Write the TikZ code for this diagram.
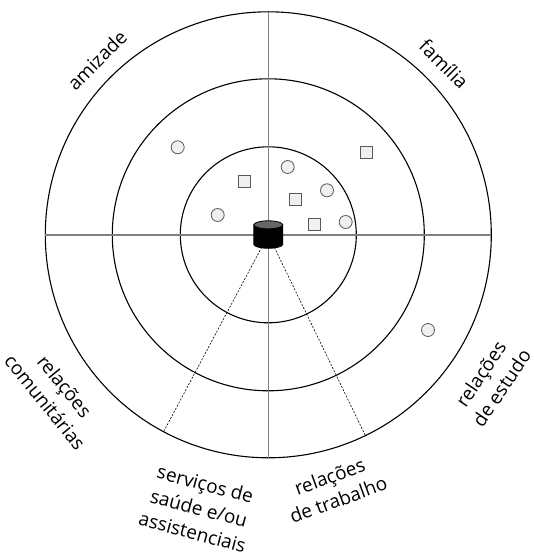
\documentclass[tikz,border=0pt]{standalone}
\usepackage{fontspec}
\setmainfont{Open Sans}

\begin{document}
\begin{tikzpicture}[
  x=1pt, y=-1pt,
  ring/.style={draw=black, line width=1.1pt},
  axis/.style={draw=black!50, line width=1.5pt},
  sector/.style={draw=black, line width=0.6pt, dash pattern=on 2pt off 1.5pt},
  person/.style={circle, draw=black!65, fill=black!6, line width=0.8pt,
                 minimum size=13pt, inner sep=0pt},
  group/.style={rectangle, draw=black!65, fill=black!6, line width=0.8pt,
                minimum size=12pt, inner sep=0pt},
  lbl/.style={font=\fontsize{19}{25}\selectfont, align=center}
]
\useasboundingbox (0,0) rectangle (534,559);
\coordinate (c) at (268.3,234.8);

% rings
\draw[ring] (c) circle[radius=223];
\draw[ring] (c) circle[radius=156];
\draw[ring] (c) circle[radius=88];

% quadrants
\path (c) ++(0,-223) coordinate (n);
\path (c) ++(0,223) coordinate (s);
\path (c) ++(-223,0) coordinate (w);
\path (c) ++(223,0) coordinate (e);
\draw[axis] (n) -- (s);
\draw[axis] (w) -- (e);

% lower sectors
\path (c) ++(118:223) coordinate (dl);
\path (c) ++(64.2:223) coordinate (dr);
\draw[sector] (c) -- (dl);
\draw[sector] (c) -- (dr);

% ego (cylinder)
\filldraw[draw=black, fill=black, line width=0.8pt] (c) ++(-14.5,-10) -- ++(0,19.5)
  arc[start angle=180, end angle=0, x radius=14.5, y radius=4] -- ++(0,-19.5) -- cycle;
\filldraw[draw=black, fill=black!60, line width=0.8pt] (c) ++(0,-10)
  ellipse[x radius=14.5, y radius=4];
\node[inner sep=0pt, minimum width=29pt, minimum height=27pt] (hub) at (c) {};

% contacts
\node[person] (p1) at (177.7,147.3) {};
\node[person] (p2) at (287.7,167) {};
\node[person] (p3) at (327,190.3) {};
\node[person] (p4) at (217.7,215) {};
\node[person] (p5) at (345.7,222) {};
\node[person] (p6) at (428,330) {};
\node[group] (g1) at (366,152) {};
\node[group] (g2) at (244.3,181.7) {};
\node[group] (g3) at (295.3,199.7) {};
\node[group] (g4) at (314.3,224) {};

% sector names
\node[lbl, rotate=45] (amiz) at (97,60) {amizade};
\node[lbl, rotate=-45] (fam) at (444,64) {família};
\node[lbl, rotate=-51] (com) at (55,394) {relações\\comunitárias};
\node[lbl, rotate=56] (est) at (491,381) {relações\\de estudo};
\node[lbl, rotate=-15] (saude) at (199,508) {serviços de\\saúde e/ou\\assistenciais};
\node[lbl, rotate=20] (trab) at (334,488) {relações\\de trabalho};
\end{tikzpicture}
\end{document}
